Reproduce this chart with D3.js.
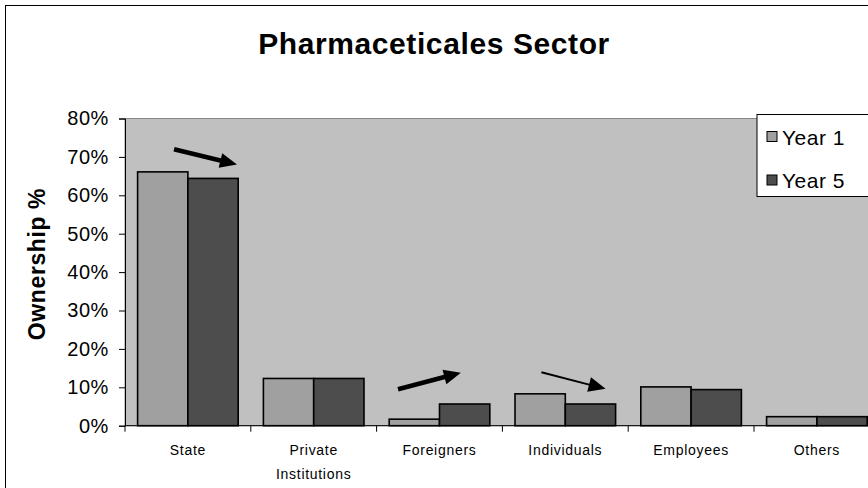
<!DOCTYPE html>
<html>
<head>
<meta charset="utf-8">
<script src="https://cdn.jsdelivr.net/npm/d3@7"></script>
<style>
  body { margin: 0; background: #fff; }
  text { font-family: Arial, "Liberation Sans", sans-serif; }
</style>
</head>
<body>
<script>
// data
const categories = ['State', 'Private Institutions', 'Foreigners', 'Individuals', 'Employees', 'Others'];
const seriesNames = ['Year 1', 'Year 5'];
const year1 = [66.1, 12.3, 1.7, 8.3, 10.1, 2.35];
const year5 = [64.4, 12.3, 5.65, 5.65, 9.4, 2.35];
const yTicks = [0, 10, 20, 30, 40, 50, 60, 70, 80];

// arrows drawn on the chart: category, [fraction of band, value] from -> to
const arrowCats = ['State', 'Foreigners', 'Individuals'];
const arrowFrom = [[0.39, 72], [0.17, 9.5], [0.31, 13.9]];
const arrowTo = [[0.89, 68], [0.67, 13.8], [0.82, 9.6]];
const arrowWeight = [4.5, 4.5, 2];

const colors = ['#a0a0a0', '#4d4d4d'];

const svg = d3.select('body').append('svg')
    .attr('width', 868)
    .attr('height', 488);

// outer frame (right and bottom edges fall outside the picture)
svg.append('rect')
    .attr('x', 5.5).attr('y', 5.5)
    .attr('width', 900).attr('height', 500)
    .attr('fill', '#fff')
    .attr('stroke', '#000');

const plotLeft = 125, plotTop = 118.5, plotBottom = 425.7, step = 125.8;

const x = d3.scaleBand().domain(categories).range([plotLeft, plotLeft + step * categories.length]);
const xInner = d3.scaleBand().domain(seriesNames).range([12.6, 113.2]);
const y = d3.scaleLinear().domain([0, 80]).range([plotBottom, plotTop]);

// plot area
svg.append('rect')
    .attr('x', plotLeft).attr('y', plotTop)
    .attr('width', step * categories.length).attr('height', plotBottom - plotTop)
    .attr('fill', '#c0c0c0')
    .attr('stroke', '#888');

// bars
const rows = categories.map((c, i) => ({ cat: c, vals: [year1[i], year5[i]] }));
const groups = svg.selectAll('g.cat')
    .data(rows)
    .enter().append('g')
    .attr('class', 'cat')
    .attr('transform', d => `translate(${x(d.cat)},0)`);

groups.selectAll('rect')
    .data(d => d.vals.map((v, j) => ({ name: seriesNames[j], v, j })))
    .enter().append('rect')
    .attr('x', d => xInner(d.name))
    .attr('y', d => y(d.v))
    .attr('width', xInner.bandwidth())
    .attr('height', d => plotBottom - y(d.v))
    .attr('fill', d => colors[d.j])
    .attr('stroke', '#000')
    .attr('stroke-width', 1.6);

// y axis
const yAxis = svg.append('g')
    .attr('transform', `translate(${plotLeft},0)`)
    .call(d3.axisLeft(y).tickValues(yTicks).tickFormat(d => d + '%').tickSize(6).tickPadding(10));
yAxis.selectAll('text')
    .attr('font-size', 20)
    .attr('fill', '#000')
    .attr('letter-spacing', 0.6)
    .style('font-family', 'Arial, "Liberation Sans", sans-serif');
yAxis.selectAll('line, path').attr('stroke', '#000');

// x axis line and ticks at band edges
svg.append('line')
    .attr('x1', plotLeft).attr('x2', 868)
    .attr('y1', plotBottom).attr('y2', plotBottom)
    .attr('stroke', '#000');
svg.selectAll('line.xtick')
    .data(categories.map(c => x(c)).concat([x.range()[1]]))
    .enter().append('line')
    .attr('class', 'xtick')
    .attr('x1', d => d).attr('x2', d => d)
    .attr('y1', plotBottom).attr('y2', plotBottom + 6)
    .attr('stroke', '#000');

// x labels (two lines for Private Institutions)
svg.selectAll('text.xlab')
    .data(categories)
    .enter().append('text')
    .attr('class', 'xlab')
    .attr('text-anchor', 'middle')
    .attr('font-size', 14)
    .attr('letter-spacing', 0.7)
    .attr('x', d => x(d) + x.bandwidth() / 2)
    .attr('y', 455)
    .each(function (d) {
        const words = d === 'Private Institutions' ? ['Private', 'Institutions'] : [d];
        d3.select(this).selectAll('tspan')
            .data(words)
            .enter().append('tspan')
            .attr('x', x(d) + x.bandwidth() / 2)
            .attr('dy', (w, k) => k === 0 ? 0 : 23.5)
            .text(w => w);
    });

// title
svg.append('text')
    .attr('x', 434).attr('y', 54)
    .attr('text-anchor', 'middle')
    .attr('font-size', 30)
    .attr('font-weight', 'bold')
    .attr('letter-spacing', 0.6)
    .text('Pharmaceticales Sector');

// y axis title
svg.append('text')
    .attr('transform', 'translate(45,264) rotate(-90)')
    .attr('text-anchor', 'middle')
    .attr('font-size', 23)
    .attr('font-weight', 'bold')
    .attr('letter-spacing', 0.6)
    .text('Ownership %');

// arrows
arrowCats.forEach((c, i) => {
    const x0 = x(c) + arrowFrom[i][0] * step, y0 = y(arrowFrom[i][1]);
    const x1 = x(c) + arrowTo[i][0] * step, y1 = y(arrowTo[i][1]);
    const ang = Math.atan2(y1 - y0, x1 - x0);
    const headLen = 17, headHalf = 7.5;
    const bx = x1 - headLen * Math.cos(ang), by = y1 - headLen * Math.sin(ang);
    svg.append('line')
        .attr('x1', x0).attr('y1', y0)
        .attr('x2', bx + Math.cos(ang)).attr('y2', by + Math.sin(ang))
        .attr('stroke', '#000')
        .attr('stroke-width', arrowWeight[i]);
    svg.append('path')
        .attr('d', d3.line()([
            [x1, y1],
            [bx + headHalf * Math.sin(ang), by - headHalf * Math.cos(ang)],
            [bx - headHalf * Math.sin(ang), by + headHalf * Math.cos(ang)]
        ]) + 'Z')
        .attr('fill', '#000');
});

// legend
const legend = svg.append('g').attr('transform', 'translate(757,114.5)');
legend.append('rect')
    .attr('width', 120).attr('height', 82)
    .attr('fill', '#fff')
    .attr('stroke', '#000');
seriesNames.forEach((s, i) => {
    legend.append('rect')
        .attr('x', 10).attr('y', 17 + i * 43.5)
        .attr('width', 10).attr('height', 10)
        .attr('fill', colors[i])
        .attr('stroke', '#000');
    legend.append('text')
        .attr('x', 25).attr('y', 30 + i * 43.5)
        .attr('font-size', 21)
        .attr('letter-spacing', 0.5)
        .text(s);
});
</script>
</body>
</html>
